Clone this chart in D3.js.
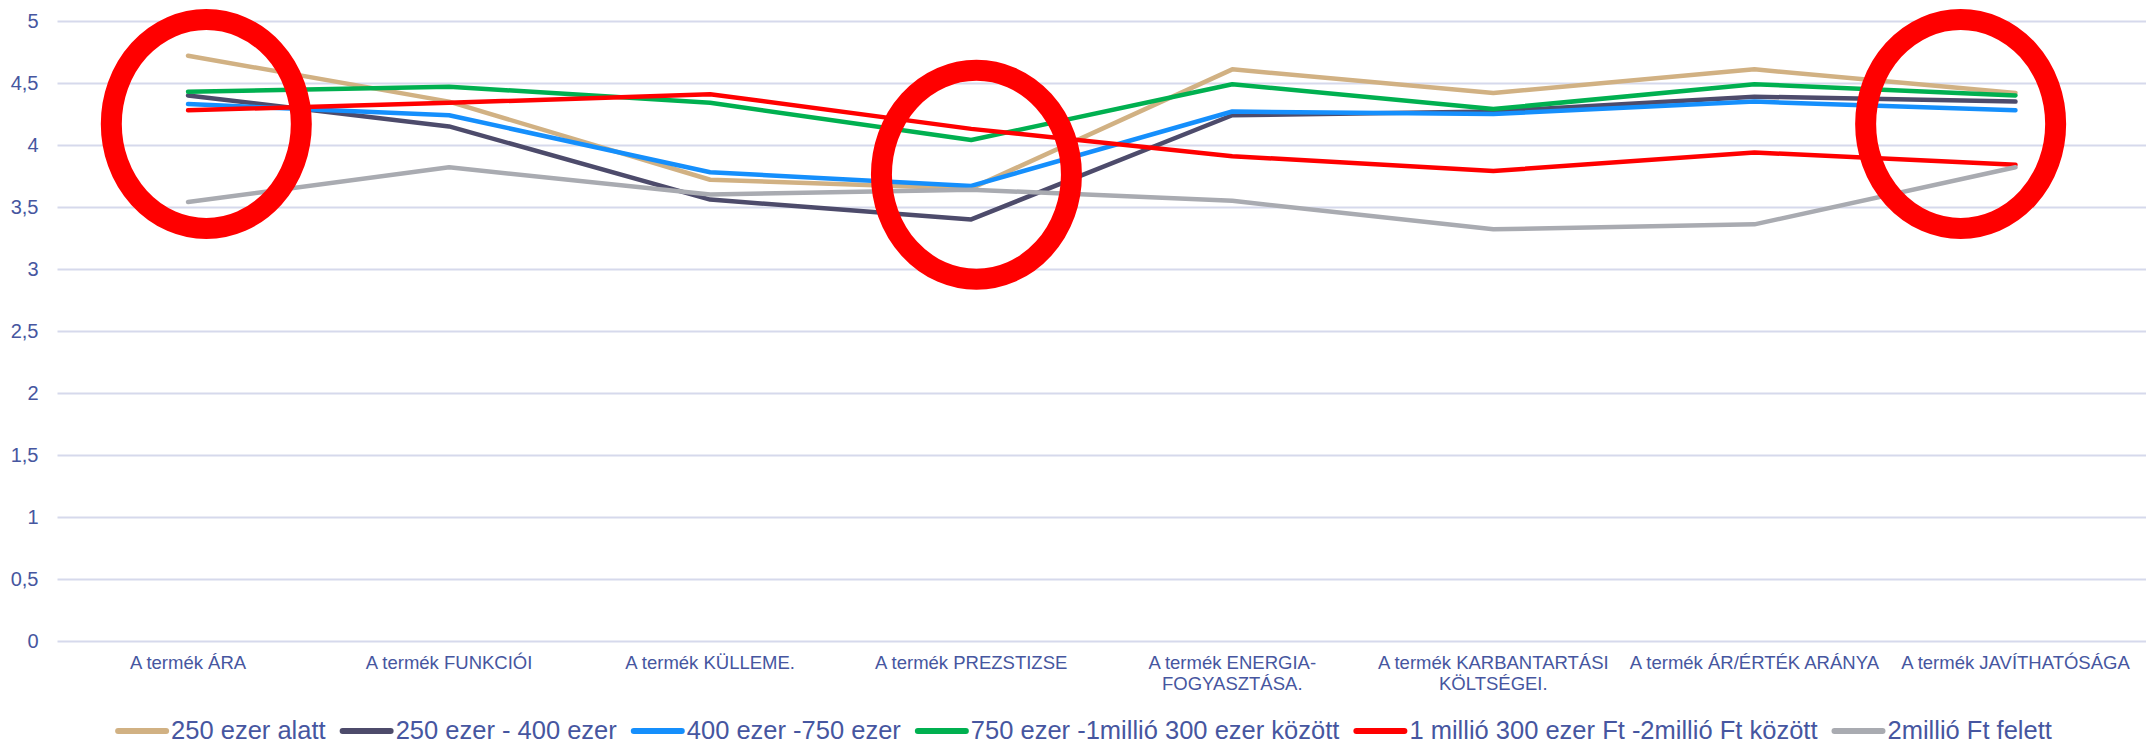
<!DOCTYPE html>
<html>
<head>
<meta charset="utf-8">
<script src="https://cdn.jsdelivr.net/npm/d3@7"></script>
<style>
  body { margin: 0; background: #fff; }
  svg text { font-family: "Liberation Sans", Arial, Helvetica, sans-serif; fill: #4656a0; }
</style>
</head>
<body>
<svg id="chart" width="2156" height="744"></svg>
<script>
// categories (x axis), "\n" marks a line break
var categories = [
  "A termék ÁRA",
  "A termék FUNKCIÓI",
  "A termék KÜLLEME.",
  "A termék PREZSTIZSE",
  "A termék ENERGIA-\nFOGYASZTÁSA.",
  "A termék KARBANTARTÁSI\nKÖLTSÉGEI.",
  "A termék ÁR/ÉRTÉK ARÁNYA",
  "A termék JAVÍTHATÓSÁGA"
];

var seriesNames = [
  "250 ezer alatt",
  "250 ezer - 400 ezer",
  "400 ezer -750 ezer",
  "750 ezer -1millió 300 ezer között",
  "1 millió 300 ezer Ft -2millió Ft között",
  "2millió Ft felett"
];
var seriesColors = ["#d1b183", "#4d4b6b", "#158ffc", "#00b050", "#ff0000", "#a9abb1"];

var under250 =   [4.72, 4.35, 3.72, 3.65, 4.61, 4.42, 4.61, 4.42];
var from250 =    [4.40, 4.15, 3.56, 3.40, 4.24, 4.27, 4.39, 4.35];
var from400 =    [4.33, 4.24, 3.78, 3.67, 4.27, 4.25, 4.35, 4.28];
var from750 =    [4.43, 4.47, 4.34, 4.04, 4.49, 4.29, 4.49, 4.40];
var from1300 =   [4.28, 4.34, 4.41, 4.13, 3.91, 3.79, 3.94, 3.84];
var over2m =     [3.54, 3.82, 3.60, 3.64, 3.55, 3.32, 3.36, 3.82];
var seriesValues = [under250, from250, from400, from750, from1300, over2m];

var yTicks = [0, 0.5, 1, 1.5, 2, 2.5, 3, 3.5, 4, 4.5, 5];

// red rings drawn over the chart: position as category index and value
var rings = [
  { pos: 0.07, value: 4.17 },
  { pos: 3.02, value: 3.76 },
  { pos: 6.79, value: 4.17 }
];

var svg = d3.select("#chart");

var x = d3.scalePoint().domain(categories).range([57.5, 2146]).padding(0.5);
var xi = d3.scaleLinear().domain([0, categories.length - 1])
  .range([x(categories[0]), x(categories[categories.length - 1])]);
var y = d3.scaleLinear().domain([0, 5]).range([641, 21]);

var huFormat = d3.formatLocale({ decimal: ",", thousands: " ", grouping: [3], currency: ["", " Ft"] }).format("~g");

// gridlines + y labels
var yAxis = svg.append("g")
  .attr("transform", "translate(57.5,0)")
  .call(d3.axisLeft(y).tickValues(yTicks).tickFormat(huFormat).tickSize(-2088.5).tickPadding(19));
yAxis.select(".domain").remove();
yAxis.selectAll(".tick line").attr("stroke", "#d6d9ec").attr("stroke-width", 2);
yAxis.selectAll(".tick text")
  .attr("font-size", "20px")
  .attr("fill", "#4656a0")
  .attr("font-family", "Liberation Sans, Arial, sans-serif");

// x labels
var xl = svg.append("g").selectAll("text")
  .data(categories)
  .enter().append("text")
  .attr("text-anchor", "middle")
  .attr("font-size", "18.5px")
  .attr("y", 669);
xl.each(function(d) {
  var t = d3.select(this);
  d.split("\n").forEach(function(line, i) {
    t.append("tspan").attr("x", x(d)).attr("dy", i === 0 ? 0 : 21).text(line);
  });
});

// lines
var line = d3.line()
  .x(function(d, i) { return x(categories[i]); })
  .y(function(d) { return y(d); });

svg.append("g").selectAll("path")
  .data(seriesValues)
  .enter().append("path")
  .attr("d", line)
  .attr("fill", "none")
  .attr("stroke", function(d, i) { return seriesColors[i]; })
  .attr("stroke-width", 4.5)
  .attr("stroke-linecap", "round")
  .attr("stroke-linejoin", "round");

// rings
svg.append("g").selectAll("ellipse")
  .data(rings)
  .enter().append("ellipse")
  .attr("cx", function(d) { return xi(d.pos); })
  .attr("cy", function(d) { return y(d.value); })
  .attr("rx", 95)
  .attr("ry", 104.5)
  .attr("fill", "none")
  .attr("stroke", "#ff0000")
  .attr("stroke-width", 21);

// legend
var legend = svg.append("g");
var items = legend.selectAll("g")
  .data(seriesNames)
  .enter().append("g");
items.append("line")
  .attr("x1", 0).attr("x2", 48)
  .attr("y1", 731).attr("y2", 731)
  .attr("stroke", function(d, i) { return seriesColors[i]; })
  .attr("stroke-width", 6)
  .attr("stroke-linecap", "round");
items.append("text")
  .attr("x", 53)
  .attr("y", 739)
  .attr("font-size", "25.5px")
  .text(function(d) { return d; });

var offset = 0, widths = [];
items.each(function() {
  var w = d3.select(this).select("text").node().getComputedTextLength();
  widths.push(53 + w);
});
var total = d3.sum(widths) + 17 * (widths.length - 1);
offset = 1085 - total / 2;
items.attr("transform", function(d, i) {
  var tx = offset;
  offset += widths[i] + 17;
  return "translate(" + tx + ",0)";
});
</script>
</body>
</html>
